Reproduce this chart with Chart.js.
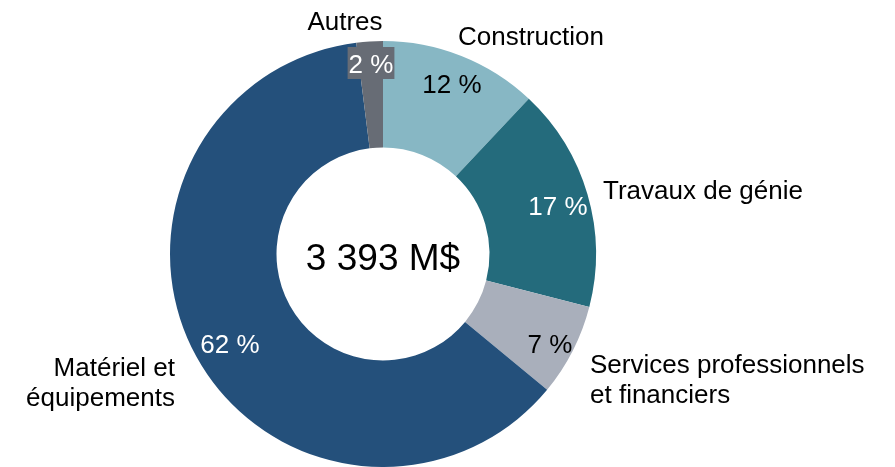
<!DOCTYPE html>
<html lang="fr">
<head>
<meta charset="utf-8">
<title>Répartition</title>
<script src="https://cdn.jsdelivr.net/npm/chart.js@4.4.0/dist/chart.umd.min.js"></script>
<style>
    html, body { margin: 0; padding: 0; background: #ffffff; }
    #chart { display: block; }
</style>
</head>
<body>
<canvas id="chart" width="895" height="467"></canvas>
<script>
// Data
const categories = ['Construction', 'Travaux de génie', 'Services professionnels et financiers', 'Matériel et équipements', 'Autres'];
const shares = [12, 17, 7, 62, 2];
const totalLabel = '3 393 M$';

// Colours per slice
const sliceColors = ['#87b7c4', '#246b7c', '#a9afbb', '#24507b', '#676c75'];

// Label placement relative to the doughnut centre (px)
const valueLabels = [
    { dx: 69, dy: -161, color: '#000000' },
    { dx: 175, dy: -39, color: '#ffffff' },
    { dx: 167, dy: 99, color: '#000000' },
    { dx: -153, dy: 99, color: '#ffffff' },
    { dx: -12, dy: -181, color: '#ffffff', box: '#676c75' }
];
const nameLabels = [
    { lines: ['Construction'], dx: 75, dy: -209, align: 'left' },
    { lines: ['Travaux de génie'], dx: 220, dy: -55, align: 'left' },
    { lines: ['Services professionnels', 'et financiers'], dx: 207, dy: 119, align: 'left' },
    { lines: ['Matériel et', 'équipements'], dx: -208, dy: 122, align: 'right' },
    { lines: ['Autres'], dx: -38, dy: -224, align: 'center' }
];

const FONT = "'Liberation Sans', Arial, sans-serif";

const labelPlugin = {
    id: 'sliceLabels',
    afterDatasetsDraw(chart) {
        const ctx = chart.ctx;
        const meta = chart.getDatasetMeta(0);
        const cx = meta.data[0].x;
        const cy = meta.data[0].y;
        ctx.save();
        ctx.font = '26px ' + FONT;
        ctx.textBaseline = 'alphabetic';

        // values inside the ring
        shares.forEach((v, i) => {
            const lab = valueLabels[i];
            const txt = v + ' %';
            const x = cx + lab.dx;
            const y = cy + lab.dy;
            if (lab.box) {
                const w = ctx.measureText(txt).width;
                ctx.fillStyle = lab.box;
                ctx.fillRect(x - w / 2 - 1, y - 26, w + 2, 32);
            }
            ctx.fillStyle = lab.color;
            ctx.textAlign = 'center';
            ctx.fillText(txt, x, y);
        });

        // category names outside
        ctx.fillStyle = '#000000';
        nameLabels.forEach(lab => {
            ctx.textAlign = lab.align;
            lab.lines.forEach((line, k) => {
                ctx.fillText(line, cx + lab.dx, cy + lab.dy + k * 30);
            });
        });

        // total in the hole
        ctx.font = '37px ' + FONT;
        ctx.textAlign = 'center';
        ctx.fillText(totalLabel, cx, cy + 16);
        ctx.restore();
    }
};

const ctx = document.getElementById('chart').getContext('2d');
new Chart(ctx, {
    type: 'doughnut',
    data: {
        labels: categories,
        datasets: [{
            data: shares,
            backgroundColor: sliceColors,
            borderWidth: 0,
            hoverOffset: 0,
            offset: 0
        }]
    },
    options: {
        responsive: false,
        animation: false,
        cutout: '50%',
        rotation: 0,
        layout: { padding: { top: 41, bottom: 0, left: 170, right: 299 } },
        plugins: {
            legend: { display: false },
            tooltip: { enabled: false }
        },
        events: []
    },
    plugins: [labelPlugin]
});
</script>
</body>
</html>
